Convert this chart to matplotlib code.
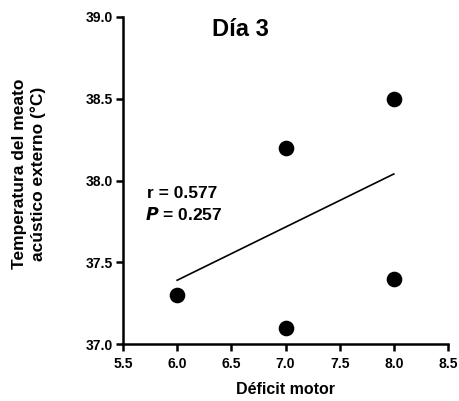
import matplotlib
matplotlib.use('Agg')
import matplotlib.pyplot as plt

plt.rcParams['font.family'] = ['Liberation Sans', 'DejaVu Sans']
plt.rcParams['font.weight'] = 'bold'

# data
deficit = [6.0, 7.0, 7.0, 8.0, 8.0]
temp = [37.3, 37.1, 38.2, 38.5, 37.4]
fit_x = [6.0, 8.0]
fit_y = [37.39, 38.04]
xticks = [5.5, 6.0, 6.5, 7.0, 7.5, 8.0, 8.5]
yticks = [37.0, 37.5, 38.0, 38.5, 39.0]

W, H = 460, 401
fig = plt.figure(figsize=(W / 100, H / 100), dpi=100)
ax = fig.add_axes([123 / W, 1 - 344 / H, 325 / W, 327 / H])

ax.scatter(deficit, temp, s=105, color='black', zorder=3, clip_on=False)
ax.plot(fit_x, fit_y, color='black', lw=1.2)

ax.set_xlim(5.5, 8.5)
ax.set_ylim(37.0, 39.0)
ax.set_xticks(xticks)
ax.set_yticks(yticks)
ax.set_xticklabels([f'{v:.1f}' for v in xticks], fontsize=10, fontweight='bold')
ax.set_yticklabels([f'{v:.1f}' for v in yticks], fontsize=10, fontweight='bold')

for s in ['top', 'right']:
    ax.spines[s].set_visible(False)
for s in ['left', 'bottom']:
    ax.spines[s].set_linewidth(1.8)
ax.tick_params(width=1.8, length=5)
ax.tick_params(axis='x', pad=4)
ax.tick_params(axis='y', pad=2)

# axis titles
fig.text(286 / W, 1 - 390 / H, 'Déficit motor', fontsize=11.5, fontweight='bold',
         ha='center', va='center')
fig.text(29 / W, 1 - 174 / H, 'Temperatura del meato\nacústico externo (°C)',
         fontsize=12.5, fontweight='bold', rotation=90, ha='center', va='center',
         multialignment='center', linespacing=1.3)

ax.text(6.58, 38.884, 'Día 3', fontsize=17, fontweight='bold', ha='center', va='baseline')
ax.text(5.718, 37.891, 'r = 0.577', fontsize=12.5, fontweight='bold', va='baseline')
ax.text(5.703, 37.758, r'$\bf{\it{P}}$ = 0.257', fontsize=12.5, fontweight='bold', va='baseline')

fig.savefig('out.png', dpi=100)
